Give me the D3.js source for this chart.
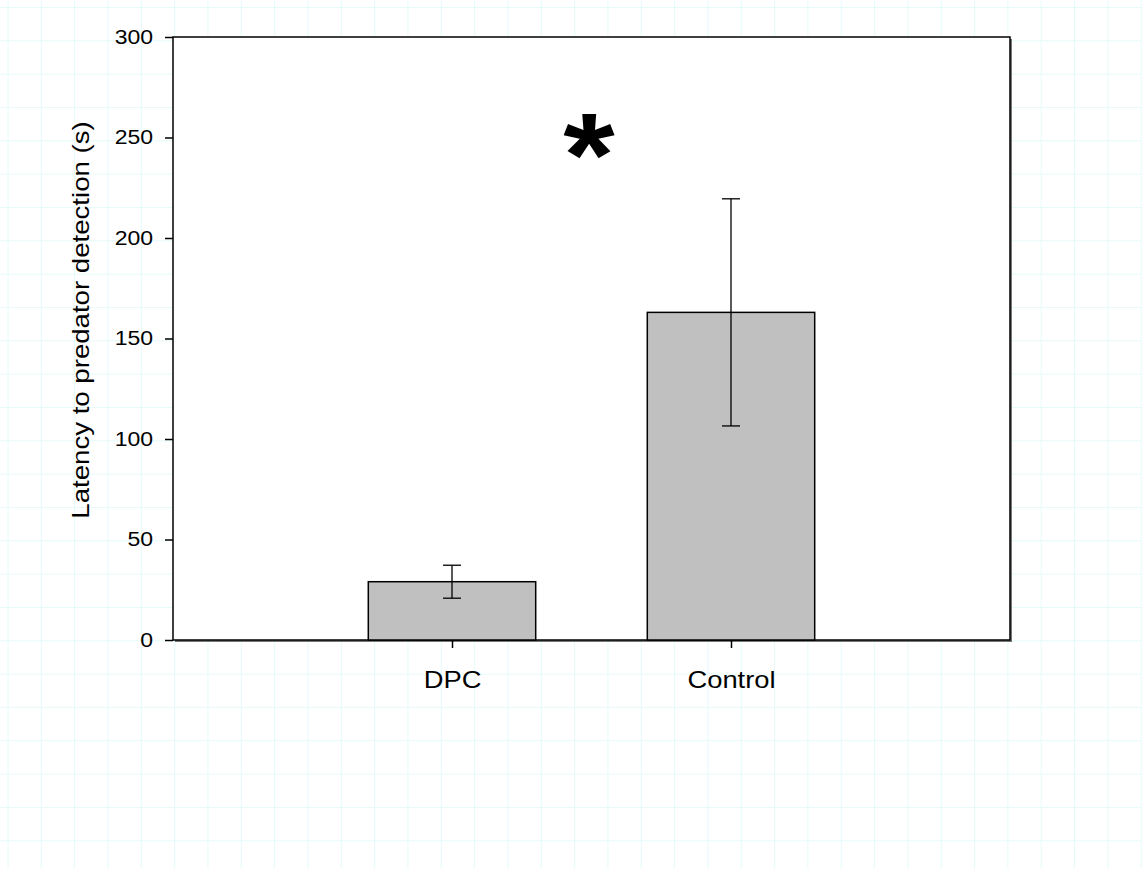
<!DOCTYPE html>
<html>
<head>
<meta charset="utf-8">
<script src="https://cdn.jsdelivr.net/npm/d3@7"></script>
<style>
  body { margin: 0; background: #fff; }
  svg { display: block; font-family: "Liberation Sans", Arial, sans-serif; }
</style>
</head>
<body>
<div id="chart"></div>
<script>
// Data
const categories = ["DPC", "Control"];
const means = [29, 163];
const errors = [8.2, 56.5];
const yTicks = [0, 50, 100, 150, 200, 250, 300];

const width = 1142;
const height = 869;
const margin = {top: 37, right: 132, bottom: 230, left: 173};

const svg = d3.select("#chart")
    .append("svg")
    .attr("width", width)
    .attr("height", height);

// the original text is a bit wider than Arial, so stretch it a little
function widen(sel, k) {
    sel.each(function() {
        const w = this.getComputedTextLength();
        d3.select(this)
            .attr("textLength", w * k)
            .attr("lengthAdjust", "spacingAndGlyphs");
    });
}

// Faint background grid paper
const gridStep = 33.33;
const grid = svg.append("g").attr("stroke", "#e6fafa").attr("stroke-width", 1);
grid.selectAll(".vg")
    .data(d3.range(8, width, gridStep))
    .enter().append("line")
    .attr("x1", d => d).attr("x2", d => d)
    .attr("y1", 0).attr("y2", height);
grid.selectAll(".hg")
    .data(d3.range(7.5, height, gridStep))
    .enter().append("line")
    .attr("x1", 0).attr("x2", width)
    .attr("y1", d => d).attr("y2", d => d);

const x0 = margin.left, x1 = width - margin.right;
const y0 = height - margin.bottom + 1, y1 = margin.top;

const x = d3.scalePoint()
    .domain(categories)
    .range([x0, x1])
    .padding(1);

const y = d3.scaleLinear()
    .domain([0, 300])
    .range([y0, y1]);

const barWidth = x.step() * 0.6;

// Plot area
svg.append("rect")
    .attr("x", x0 + 2).attr("y", y1 + 2)
    .attr("width", x1 - x0).attr("height", y0 - y1)
    .attr("fill", "#777");
svg.append("rect")
    .attr("x", x0).attr("y", y1)
    .attr("width", x1 - x0).attr("height", y0 - y1)
    .attr("fill", "white")
    .attr("stroke", "black")
    .attr("stroke-width", 1.5);

// Bars
svg.selectAll(".bar")
    .data(categories)
    .enter().append("rect")
    .attr("class", "bar")
    .attr("x", d => x(d) - barWidth / 2)
    .attr("y", (d, i) => y(means[i]))
    .attr("width", barWidth)
    .attr("height", (d, i) => y(0) - y(means[i]))
    .attr("fill", "#c0c0c0")
    .attr("stroke", "black")
    .attr("stroke-width", 1.5);

// Error bars
const err = svg.append("g").attr("stroke", "black").attr("stroke-width", 1.3);
categories.forEach((c, i) => {
    const cx = x(c);
    err.append("line")
        .attr("x1", cx).attr("x2", cx)
        .attr("y1", y(means[i] + errors[i])).attr("y2", y(means[i] - errors[i]));
    [means[i] + errors[i], means[i] - errors[i]].forEach(v => {
        err.append("line")
            .attr("x1", cx - 9).attr("x2", cx + 9)
            .attr("y1", y(v)).attr("y2", y(v));
    });
});

// Y axis
const yAxis = svg.append("g")
    .attr("transform", `translate(${x0},0)`)
    .call(d3.axisLeft(y).tickValues(yTicks).tickSize(8).tickPadding(12));
yAxis.select(".domain").remove();
yAxis.selectAll("line").attr("stroke-width", 1.5);
yAxis.selectAll("text")
    .style("font-size", "20px")
    .style("font-family", "Liberation Sans, Arial, sans-serif")
    .attr("fill", "black")
    .call(widen, 1.15);

// X axis
const xAxis = svg.append("g")
    .attr("transform", `translate(0,${y0})`)
    .call(d3.axisBottom(x).tickSize(8).tickPadding(23));
xAxis.select(".domain").remove();
xAxis.selectAll("line").attr("stroke-width", 1.5);
xAxis.selectAll("text")
    .style("font-size", "24px")
    .style("font-family", "Liberation Sans, Arial, sans-serif")
    .attr("fill", "black")
    .call(widen, 1.14);

// Y axis title
svg.append("text")
    .attr("transform", "translate(89,320) rotate(-90)")
    .attr("text-anchor", "middle")
    .style("font-size", "24px")
    .text("Latency to predator detection (s)")
    .call(widen, 1.15);

// Significance marker
svg.append("text")
    .attr("x", 589)
    .attr("y", 196)
    .attr("text-anchor", "middle")
    .style("font-size", "118px")
    .style("font-weight", "bold")
    .text("*")
    .call(widen, 1.12);
</script>
</body>
</html>
